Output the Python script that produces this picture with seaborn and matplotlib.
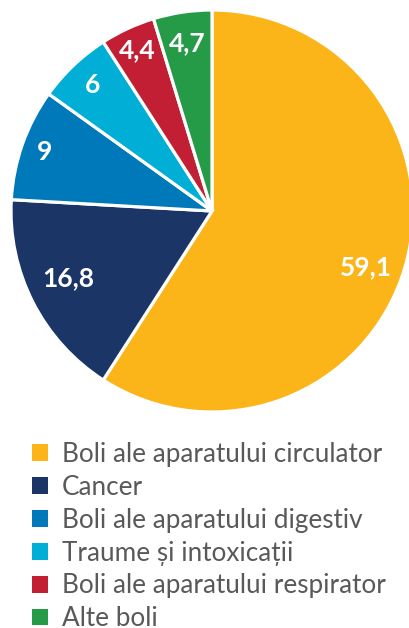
import matplotlib
matplotlib.use("Agg")
import matplotlib.pyplot as plt
import seaborn as sns
import numpy as np

categories = ["Boli ale aparatului circulator", "Cancer", "Boli ale aparatului digestiv",
              "Traume și intoxicații", "Boli ale aparatului respirator", "Alte boli"]
values = [59.1, 16.8, 9, 6, 4.4, 4.7]
value_labels = ["59,1", "16,8", "9", "6", "4,4", "4,7"]
colors = ["#FBB519", "#1A3566", "#0079BA", "#00AED6", "#C21F35", "#259B48"]
# label placement: radial fraction and angle offset (deg) from wedge middle
label_dist = [0.816, 0.79, 0.886, 0.863, 0.88, 0.845]
label_shift = [-3.6, -2.0, 0, 0, 0, 0]

sns.set_theme(style="white")
plt.rcParams['font.family'] = ['Lato', 'DejaVu Sans']

W, H = 410, 628
fig = plt.figure(figsize=(W / 100, H / 100), dpi=100)

cx, cy, R = 212, 211, 201
ax = fig.add_axes([(cx - R) / W, 1 - (cy + R) / H, 2 * R / W, 2 * R / H])
wedges, _ = ax.pie(values, colors=colors, startangle=90, counterclock=False,
                   wedgeprops=dict(edgecolor="white", linewidth=2.3), radius=1)
ax.set_xlim(-1, 1)
ax.set_ylim(-1, 1)
ax.axis("off")

for w, lab, d, s in zip(wedges, value_labels, label_dist, label_shift):
    ang = np.deg2rad((w.theta1 + w.theta2) / 2 + s)
    ax.text(d * np.cos(ang), d * np.sin(ang), lab, ha="center", va="center",
            color="white", fontsize=19, fontweight="bold")

leg = fig.legend(wedges, categories, loc="upper left", bbox_to_anchor=(32 / W, 1 - 442 / H),
                 frameon=False, fontsize=18.8, handlelength=0.61, handleheight=0.61,
                 handletextpad=0.54, labelspacing=0.30, labelcolor="#595959",
                 borderpad=0, borderaxespad=0)
for h in leg.legend_handles:
    h.set_edgecolor("none")

fig.savefig("out.png", dpi=100)
